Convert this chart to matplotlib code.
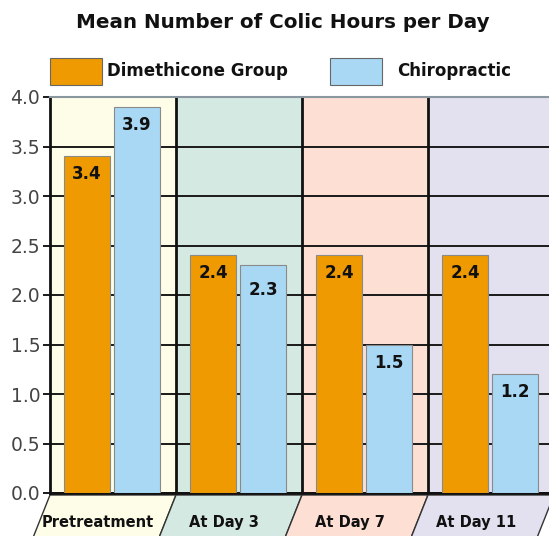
from matplotlib import pyplot as plt
from matplotlib.patches import Rectangle, Polygon

categories = ['Pretreatment', 'At Day 3', 'At Day 7', 'At Day 11']
dimethicone = [3.4, 2.4, 2.4, 2.4]
chiropractic = [3.9, 2.3, 1.5, 1.2]
series_names = ['Dimethicone Group', 'Chiropractic']
yticks = [0.0, 0.5, 1.0, 1.5, 2.0, 2.5, 3.0, 3.5, 4.0]

orange = '#EE9A00'
blue = '#A8D8F4'
backgrounds = ['#FEFDE8', '#D4E9E1', '#FDDFD4', '#E3E0EF']

W, H = 549, 536
fig = plt.figure(figsize=(W / 100, H / 100), dpi=100)
# axes: left 50px, right past the edge, top 97px, bottom 493px
ax = fig.add_axes([50 / W, (H - 493) / H, 504 / W, (493 - 97) / H])
ax.set_xlim(0, 4)
ax.set_ylim(0, 4)

for i, c in enumerate(backgrounds):
    ax.axvspan(i, i + 1, color=c, zorder=0, lw=0)

ax.set_axisbelow(True)
ax.grid(axis='y', color='#1a1a1a', lw=1.4)
for i in range(1, 4):
    ax.axvline(i, color='#111111', lw=2, zorder=1)

x = list(range(len(categories)))
b1 = ax.bar([i + 0.294 for i in x], dimethicone, width=0.365,
            color=orange, edgecolor='#8a8a8a', lw=0.8, zorder=3)
b2 = ax.bar([i + 0.69 for i in x], chiropractic, width=0.36,
            color=blue, edgecolor='#8a8a8a', lw=0.8, zorder=3)

for bars, vals in ((b1, dimethicone), (b2, chiropractic)):
    for bar, v in zip(bars, vals):
        off = -25 if v == 2.3 else -18
        ax.annotate('{:.1f}'.format(v),
                    (bar.get_x() + bar.get_width() / 2, v),
                    xytext=(0, off * 0.72), textcoords='offset points',
                    ha='center', va='center', fontsize=12,
                    fontweight='bold', color='#111111', zorder=4)

ax.set_yticks(yticks)
ax.set_yticklabels(['{:.1f}'.format(t) for t in yticks])
ax.set_xticks([])
ax.tick_params(axis='y', length=5, width=1.4, color='#1a1a1a',
               labelsize=13.5, labelcolor='#444444', pad=2)
for s in ('left', 'bottom'):
    ax.spines[s].set_color('#111111')
    ax.spines[s].set_linewidth(2)
ax.spines['top'].set_color('#8a96a0')
ax.spines['top'].set_linewidth(1.5)
ax.spines['right'].set_visible(False)

# slanted category labels under the axis
slant = 0.15
for i, (cat, c) in enumerate(zip(categories, backgrounds)):
    poly = Polygon([(i, -0.02), (i + 1, -0.02), (i + 1 - slant, -0.5),
                    (i - slant, -0.5)], closed=True, facecolor=c,
                   edgecolor='#333333', lw=1, clip_on=False, zorder=2)
    ax.add_patch(poly)
    ax.text(i + 0.38, -0.3, cat, ha='center', va='center', fontsize=10.5,
            fontweight='bold', color='#111111', clip_on=False)

fig.text(283 / W, 1 - 22 / H, 'Mean Number of Colic Hours per Day',
         ha='center', va='center', fontsize=14.3, fontweight='bold',
         color='#111111')

# legend
legend_pos = [(50, 107), (330, 397)]
for (px, tx), name, col in zip(legend_pos, series_names, [orange, blue]):
    fig.add_artist(Rectangle((px / W, 1 - 85 / H), 52 / W, 27 / H,
                             transform=fig.transFigure, facecolor=col,
                             edgecolor='#666666', lw=0.8))
    fig.text(tx / W, 1 - 71 / H, name, ha='left', va='center',
             fontsize=12, fontweight='bold', color='#111111')

fig.savefig('out.png', dpi=100)
